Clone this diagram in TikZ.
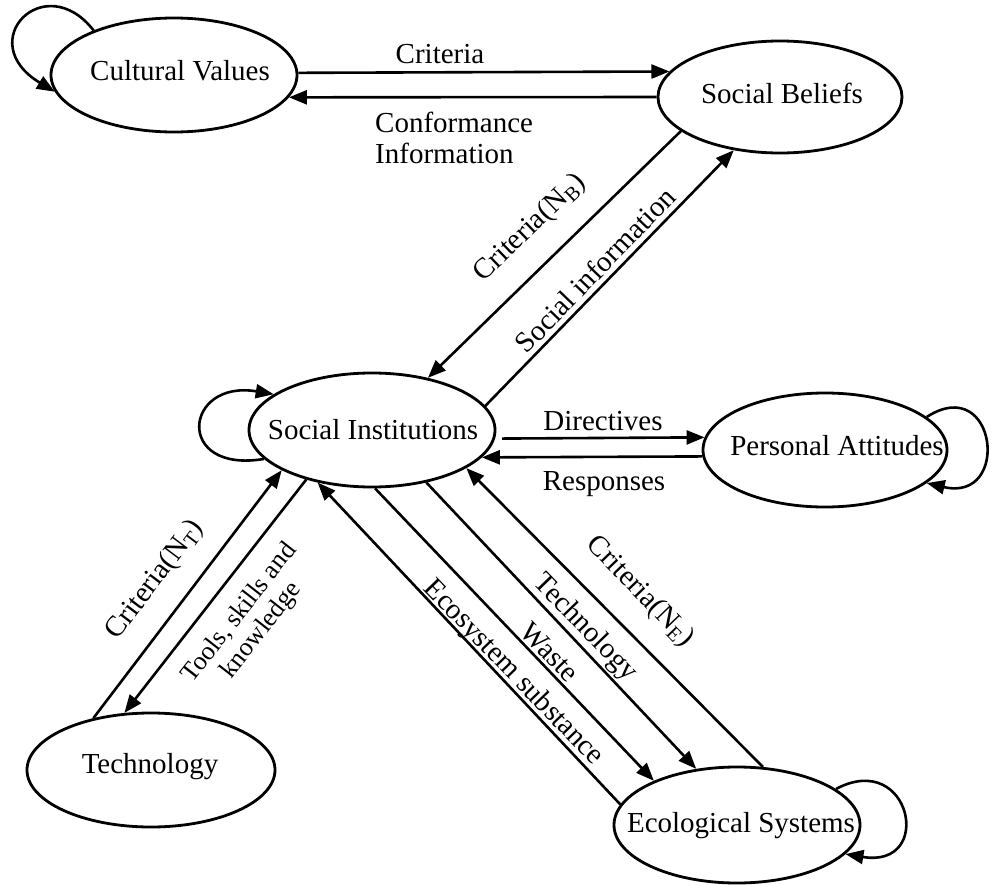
\documentclass[tikz,border=0pt]{standalone}
\usepackage{fontspec}
\setmainfont{Liberation Serif}
\usetikzlibrary{shapes.geometric,arrows.meta}
\begin{document}
\begin{tikzpicture}[x=1pt,y=-1pt,
  every node/.style={font=\fontsize{29}{31}\selectfont, inner sep=0pt},
  state/.style={ellipse, draw, line width=2.8pt, minimum width=246pt, minimum height=114pt, inner sep=0pt},
  flow/.style={line width=2.6pt, -{Triangle[length=18pt,width=14pt]}},
  small/.style={font=\fontsize{26}{28}\selectfont}]
\useasboundingbox (0,0) rectangle (994,886);

% states
\node[state] (CV) at (174,75) {};
\node (CVt) at (180,71) {Cultural Values};
\node[state, minimum width=244pt, minimum height=112pt] (SB) at (780,97) {};
\node (SBt) at (782,93) {Social Beliefs};
\node[state] (SI) at (372,430) {};
\node (SIt) at (373,430) {Social Institutions};
\node[state, minimum width=244pt] (PA) at (825,450) {};
\node (PAt) at (837,446) {Personal Attitudes};
\node[state, minimum width=248pt] (TE) at (151,770) {};
\node (TEt) at (150,767) {Technology};
\node[state, minimum height=116pt] (EC) at (737,825) {};
\node (ECt) at (741,826) {Ecological Systems};

% connectors
\draw[flow] (CV.1) -- (SB.167);
\draw[flow] (SB.180) -- (CV.-11);
\draw[flow] (SB.-161) -- (SI.43);
\draw[flow] (SI.12) -- (SB.-131);
\draw[flow, shorten <=7pt] (SI.-4) -- (PA.174);
\draw[flow] (PA.183) -- (SI.-14);
\draw[flow] (TE.138) -- (SI.204);
\draw[flow] (SI.217) -- (TE.115);
\draw[flow] (EC.170) -- (SI.224);
\draw[flow] (SI.-87) -- (EC.152);
\draw[flow] (SI.-44) -- (EC.126);
\draw[flow] (EC.66) -- (SI.-22);

% self loops
\draw[flow] (CV.151) .. controls +(-49,-63) and +(-83,-50) .. (CV.188);
\draw[flow] (SI.195) .. controls +(-90,15) and +(-90,-15) .. (SI.160);
\draw[flow] (PA.18) .. controls +(70,-45) and +(85,20) .. (PA.-18);
\draw[flow] (EC.20) .. controls +(75,-40) and +(90,15) .. (EC.-15);

% labels
\node (Lcrit) at (440,54) {Criteria};
\node[anchor=west, align=left] (Lconf) at (375,138) {Conformance\\Information};
\node (Ldir) at (603,421) {Directives};
\node (Lresp) at (604,484) {Responses};
\node[rotate=44] (Lcnb) at (530,228) {Criteria(N\textsubscript{B})};
\node[rotate=46] (Lsoc) at (595,270) {Social information};
\node[rotate=53] (Lcnt) at (155,580) {Criteria(N\textsubscript{T})};
\node[rotate=52, align=center, small] (Ltools) at (251,622) {Tools, skills and\\knowledge};
\node[rotate=-46] (Lcne) at (640,592) {Criteria(N\textsubscript{E})};
\node[rotate=-46] (Ltech) at (585,628) {Technology};
\node[rotate=-46] (Lwaste) at (550,652) {Waste};
\node[rotate=-46] (Leco) at (513,673) {Ecosystem substance};
\end{tikzpicture}
\end{document}
